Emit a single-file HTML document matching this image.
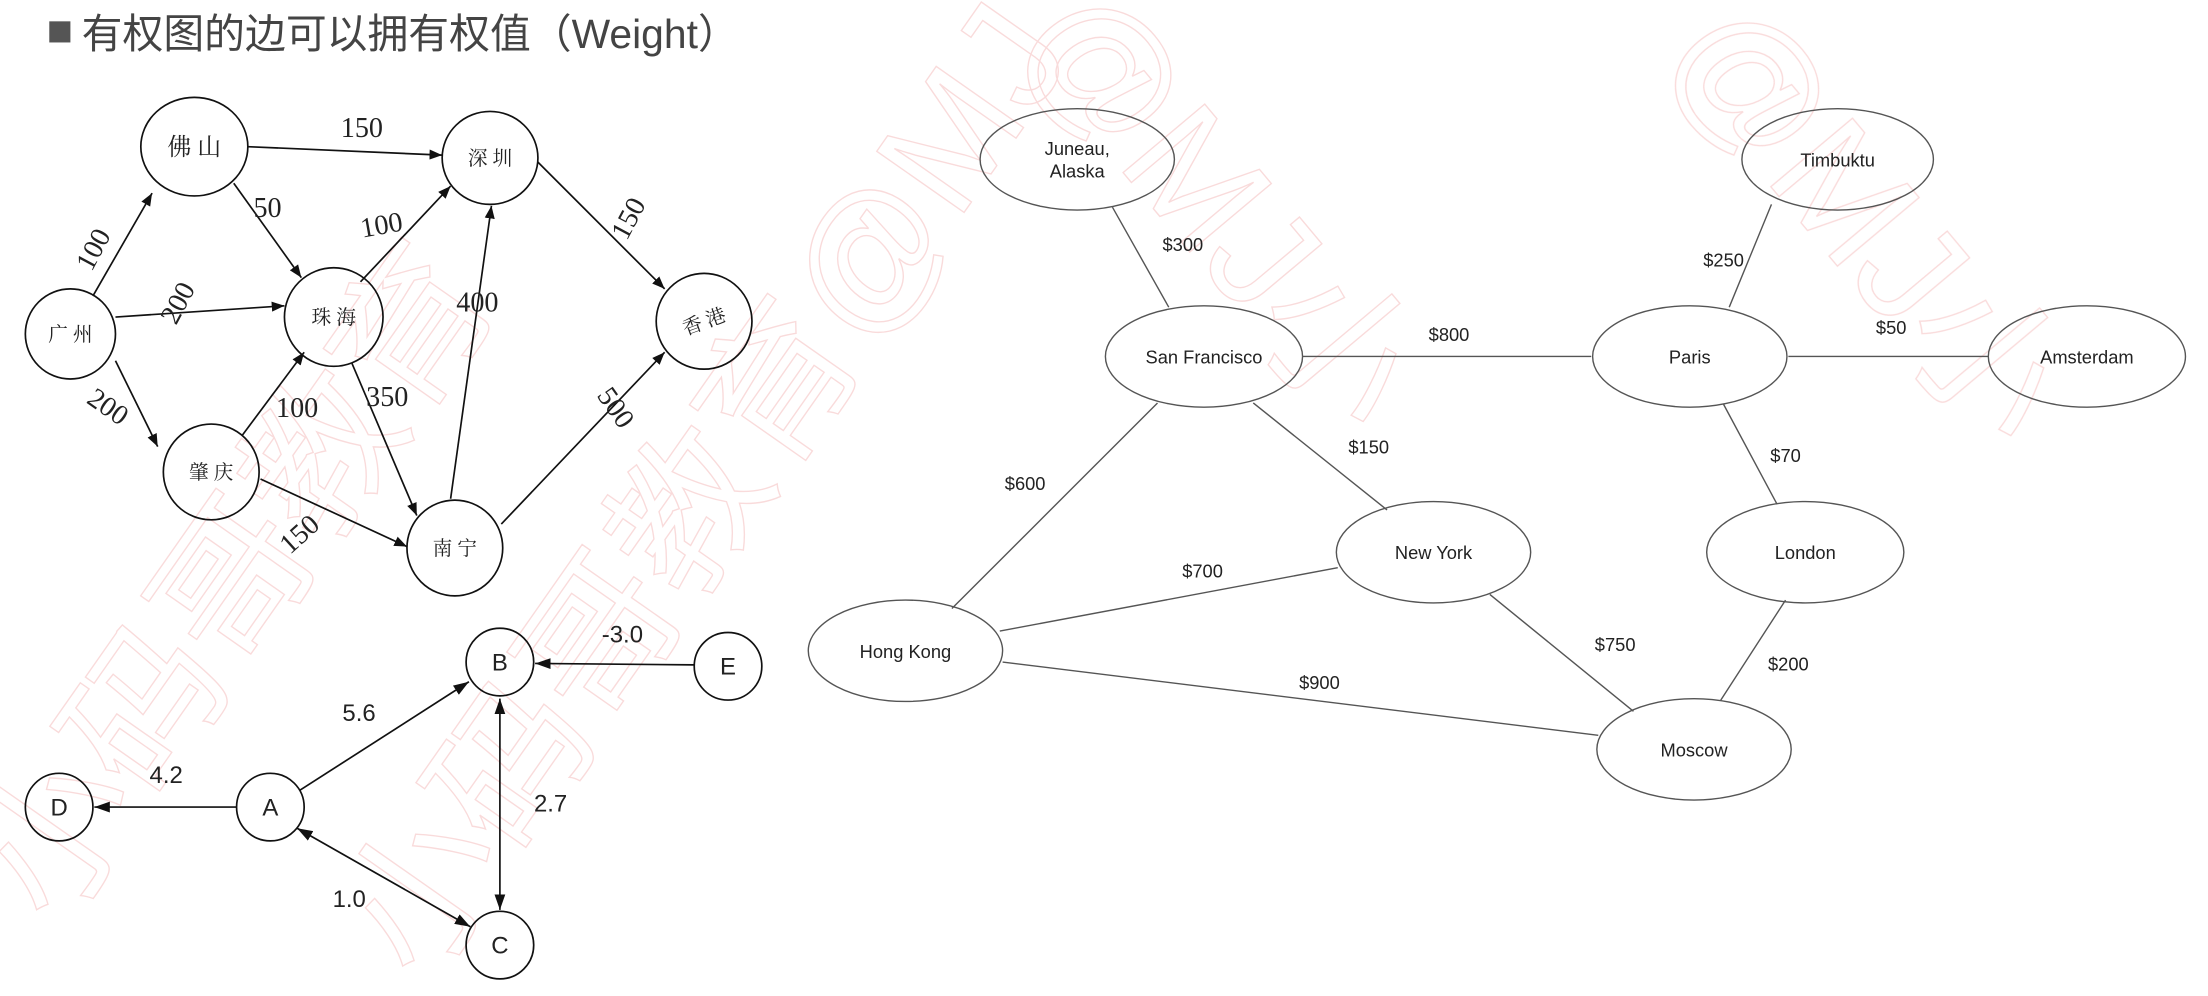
<!DOCTYPE html>
<html><head><meta charset="utf-8"><style>
html,body{margin:0;padding:0;background:#fff}
svg{display:block}
</style></head><body>
<svg width="2208" height="996" viewBox="0 0 1568 707" xmlns="http://www.w3.org/2000/svg">
<defs>
<marker id="ah" viewBox="0 0 10 10" refX="10" refY="5" markerWidth="9" markerHeight="9" orient="auto-start-reverse" markerUnits="userSpaceOnUse"><path d="M0,1 L10,5 L0,9 z" fill="#111"/></marker>
<marker id="ah2" viewBox="0 0 10 10" refX="10" refY="5" markerWidth="11" markerHeight="11" orient="auto-start-reverse" markerUnits="userSpaceOnUse"><path d="M0,1.5 L10,5 L0,8.5 z" fill="#111"/></marker>
</defs>
<!-- watermark -->
<g font-family="'Liberation Sans','Noto Sans CJK SC',sans-serif" font-size="110" fill="none" stroke="#f6c4c4" stroke-width="1" opacity="0.6">
<text transform="translate(40,660) rotate(-55)">小码哥教育</text>
<text transform="translate(300,700) rotate(-55)">小码哥教育@MJ</text>
<text transform="translate(720,30) rotate(50)">@MJ小</text>
<text transform="translate(1180,40) rotate(50)">@MJ小</text>
</g>
<!-- title -->
<rect x="35" y="15" width="15" height="15" fill="#555"/>
<text x="58" y="34" font-family="'Liberation Sans','Noto Sans CJK SC',sans-serif" font-size="29" fill="#444">有权图的边可以拥有权值（Weight）</text>

<!-- top-left graph -->
<g stroke="#111" stroke-width="1.2" fill="none">
<line x1="66" y1="210" x2="108" y2="137" marker-end="url(#ah)"/>
<line x1="82" y1="225" x2="202" y2="217" marker-end="url(#ah)"/>
<line x1="82" y1="256" x2="112" y2="317" marker-end="url(#ah)"/>
<line x1="176" y1="104" x2="314" y2="110" marker-end="url(#ah)"/>
<line x1="166" y1="130" x2="214" y2="197" marker-end="url(#ah)"/>
<line x1="256" y1="200" x2="320" y2="132" marker-end="url(#ah)"/>
<line x1="172" y1="309" x2="216" y2="250" marker-end="url(#ah)"/>
<line x1="250" y1="258" x2="296" y2="366" marker-end="url(#ah)"/>
<line x1="185" y1="340" x2="289" y2="388" marker-end="url(#ah)"/>
<line x1="320" y1="354" x2="349" y2="146" marker-end="url(#ah)"/>
<line x1="356" y1="372" x2="472" y2="250" marker-end="url(#ah)"/>
<line x1="382" y1="115" x2="472" y2="205" marker-end="url(#ah)"/>
<ellipse cx="50" cy="237" rx="32" ry="32"/>
<ellipse cx="138" cy="104" rx="38" ry="35"/>
<ellipse cx="348" cy="112" rx="34" ry="33"/>
<ellipse cx="237" cy="225" rx="35" ry="35"/>
<ellipse cx="500" cy="228" rx="34" ry="34"/>
<ellipse cx="150" cy="335" rx="34" ry="34"/>
<ellipse cx="323" cy="389" rx="34" ry="34"/>
</g>
<g font-family="'Liberation Serif','Noto Serif CJK SC',serif" fill="#222" text-anchor="middle">
<g font-size="14"><text x="50" y="242">广 州</text><text x="237" y="230">珠 海</text><text x="348" y="117">深 圳</text><text x="500" y="233" transform="rotate(-20 500 228)">香 港</text><text x="150" y="340">肇 庆</text><text x="323" y="394">南 宁</text></g>
<text x="138" y="110" font-size="17">佛 山</text>
<g font-size="20">
<text x="257" y="97">150</text>
<text x="190" y="154">50</text>
<text transform="translate(72,180) rotate(-62)">100</text>
<text transform="translate(132,218) rotate(-62)">200</text>
<text transform="translate(73,294) rotate(35)">200</text>
<text x="272" y="166" transform="rotate(-10 272 166)">100</text>
<text x="339" y="221">400</text>
<text transform="translate(452,158) rotate(-62)">150</text>
<text x="211" y="296">100</text>
<text x="275" y="288">350</text>
<text transform="translate(217,384) rotate(-42)">150</text>
<text transform="translate(432,293) rotate(55)">500</text>
</g>
</g>

<!-- bottom-left graph -->
<g stroke="#111" stroke-width="1.2" fill="none">
<line x1="493" y1="472" x2="380" y2="471" marker-end="url(#ah2)"/>
<line x1="213" y1="561" x2="333" y2="484" marker-end="url(#ah2)"/>
<line x1="168" y1="573" x2="67" y2="573" marker-end="url(#ah2)"/>
<line x1="355" y1="496" x2="355" y2="646" marker-start="url(#ah2)" marker-end="url(#ah2)"/>
<line x1="211" y1="588" x2="334" y2="658" marker-start="url(#ah2)" marker-end="url(#ah2)"/>
<circle cx="355" cy="470" r="24"/><circle cx="517" cy="473" r="24"/><circle cx="42" cy="573" r="24"/><circle cx="192" cy="573" r="24"/><circle cx="355" cy="671" r="24"/>
</g>
<g font-family="'Liberation Sans',sans-serif" fill="#222" text-anchor="middle" font-size="17">
<text x="355" y="476">B</text><text x="517" y="479">E</text><text x="42" y="579">D</text><text x="192" y="579">A</text><text x="355" y="677">C</text>
<text x="442" y="456">-3.0</text><text x="255" y="512">5.6</text><text x="118" y="556">4.2</text><text x="391" y="576">2.7</text><text x="248" y="644">1.0</text>
</g>

<!-- right graph -->
<g stroke="#555" stroke-width="1" fill="none">
<line x1="790" y1="147" x2="830" y2="218"/>
<line x1="1258" y1="145" x2="1228" y2="218"/>
<line x1="925" y1="253" x2="1130" y2="253"/>
<line x1="1270" y1="253" x2="1412" y2="253"/>
<line x1="822" y1="286" x2="676" y2="432"/>
<line x1="890" y1="286" x2="985" y2="362"/>
<line x1="1224" y1="287" x2="1262" y2="358"/>
<line x1="950" y1="403" x2="710" y2="448"/>
<line x1="1058" y1="422" x2="1160" y2="505"/>
<line x1="1268" y1="426" x2="1222" y2="497"/>
<line x1="712" y1="470" x2="1135" y2="522"/>
<ellipse cx="765" cy="113" rx="69" ry="36"/>
<ellipse cx="1305" cy="113" rx="68" ry="36"/>
<ellipse cx="855" cy="253" rx="70" ry="36"/>
<ellipse cx="1200" cy="253" rx="69" ry="36"/>
<ellipse cx="1482" cy="253" rx="70" ry="36"/>
<ellipse cx="1018" cy="392" rx="69" ry="36"/>
<ellipse cx="1282" cy="392" rx="70" ry="36"/>
<ellipse cx="643" cy="462" rx="69" ry="36"/>
<ellipse cx="1203" cy="532" rx="69" ry="36"/>
</g>
<g font-family="'Liberation Sans',sans-serif" fill="#222" text-anchor="middle" font-size="13">
<text x="765" y="110">Juneau,</text><text x="765" y="126">Alaska</text>
<text x="1305" y="118">Timbuktu</text>
<text x="855" y="258">San Francisco</text>
<text x="1200" y="258">Paris</text>
<text x="1482" y="258">Amsterdam</text>
<text x="1018" y="397">New York</text>
<text x="1282" y="397">London</text>
<text x="643" y="467">Hong Kong</text>
<text x="1203" y="537">Moscow</text>
<text x="840" y="178">$300</text>
<text x="1224" y="189">$250</text>
<text x="1029" y="242">$800</text>
<text x="1343" y="237">$50</text>
<text x="728" y="348">$600</text>
<text x="972" y="322">$150</text>
<text x="1268" y="328">$70</text>
<text x="854" y="410">$700</text>
<text x="1147" y="462">$750</text>
<text x="1270" y="476">$200</text>
<text x="937" y="489">$900</text>
</g>
</svg>
</body></html>
